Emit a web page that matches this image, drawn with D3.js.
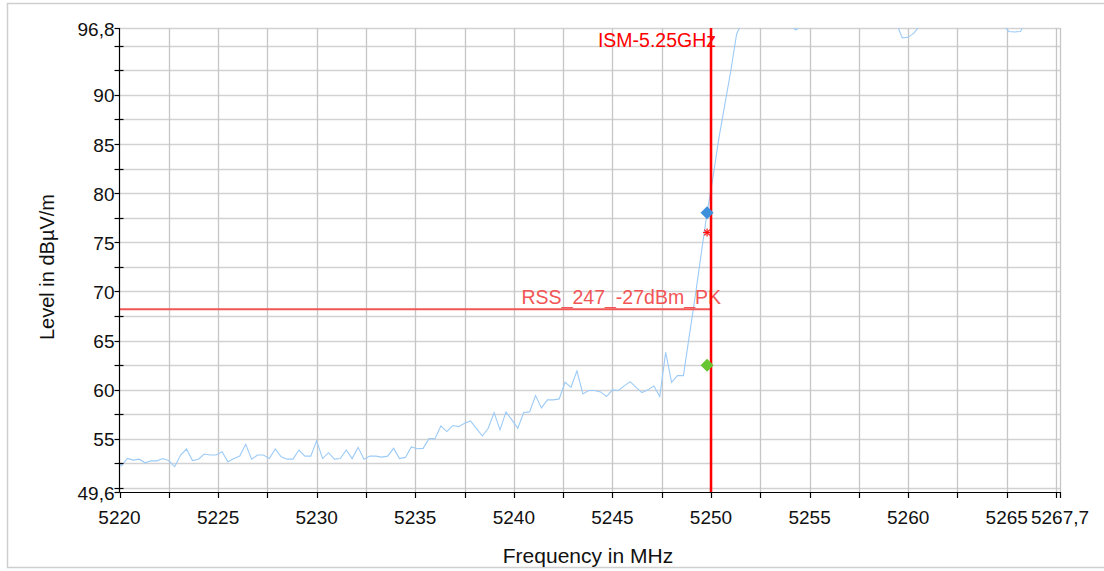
<!DOCTYPE html>
<html>
<head>
  <title>Level vs Frequency</title>
  <script src="https://d3js.org/d3.v7.min.js"></script>
  <style>
    body { margin: 0; background: #fff; }
    text { font-family: "Liberation Sans", Arial, sans-serif; }
  </style>
</head>
<body>
<script>
// trace: frequency (MHz) and level (dBuV/m)
var freqMHz = [5220.0, 5220.1, 5220.4, 5220.7, 5221.0, 5221.3, 5221.6, 5221.9, 5222.2, 5222.5, 5222.8,
  5223.1, 5223.4, 5223.7, 5224.0, 5224.3, 5224.6, 5224.9, 5225.2, 5225.5, 5225.8,
  5226.1, 5226.4, 5226.7, 5227.0, 5227.3, 5227.6, 5227.9, 5228.2, 5228.5, 5228.8,
  5229.1, 5229.4, 5229.7, 5230.0, 5230.3, 5230.6, 5230.9, 5231.2, 5231.5, 5231.8,
  5232.1, 5232.4, 5232.7, 5233.0, 5233.3, 5233.6, 5233.9, 5234.2, 5234.5, 5234.8,
  5235.1, 5235.4, 5235.7, 5236.0, 5236.3, 5236.6, 5236.9, 5237.2, 5237.5, 5237.8,
  5238.1, 5238.4, 5238.7, 5239.0, 5239.3, 5239.6, 5239.9, 5240.2, 5240.5, 5240.8,
  5241.1, 5241.4, 5241.7, 5242.0, 5242.3, 5242.6, 5242.9, 5243.2, 5243.5, 5243.8,
  5244.1, 5244.4, 5244.7, 5245.0, 5245.3, 5245.6, 5245.9, 5246.2, 5246.5, 5246.8,
  5247.1, 5247.4, 5247.7, 5248.0, 5248.3, 5248.6, 5248.9, 5249.2, 5249.5, 5249.8,
  5250.1, 5250.4, 5250.7, 5251.0, 5251.3, 5251.6, 5251.9, 5252.2, 5252.5, 5252.8,
  5253.1, 5253.4, 5253.7, 5254.0, 5254.3, 5254.6, 5254.9, 5255.2, 5255.5, 5255.8,
  5256.1, 5256.4, 5256.7, 5257.0, 5257.3, 5257.6, 5257.9, 5258.2, 5258.5, 5258.8,
  5259.1, 5259.4, 5259.7, 5260.0, 5260.3, 5260.6, 5260.9, 5261.2, 5261.5, 5261.8,
  5262.1, 5262.4, 5262.7, 5263.0, 5263.3, 5263.6, 5263.9, 5264.2, 5264.5, 5264.8,
  5265.1, 5265.4, 5265.7, 5266.0, 5266.3, 5266.6, 5266.9, 5267.2, 5267.5, 5267.7];

var levelDb = [52.6, 52.26, 53.01, 52.84, 52.94, 52.57, 52.77, 52.77, 53.0, 52.77, 52.19,
  53.36, 53.97, 52.8, 52.94, 53.46, 53.36, 53.36, 53.7, 52.67, 53.0,
  53.25, 54.45, 52.94, 53.36, 53.36, 53.0, 53.97, 53.18, 52.94, 52.94,
  53.87, 53.25, 53.25, 54.8, 53.0, 53.6, 52.94, 53.0, 53.87, 53.0,
  54.14, 52.94, 53.25, 53.25, 53.15, 53.25, 54.04, 53.0, 53.12, 54.18,
  54.0, 54.04, 55.03, 55.03, 56.32, 55.75, 56.36, 56.25, 56.59, 56.83,
  56.08, 55.3, 56.08, 57.68, 55.92, 57.75, 56.93, 56.08, 57.68, 57.75,
  59.41, 58.15, 58.97, 58.97, 59.07, 60.76, 60.25, 61.92, 59.58, 59.92,
  59.92, 59.78, 59.31, 59.99, 59.92, 60.39, 60.83, 60.25, 59.71, 59.99,
  60.39, 59.31, 63.81, 60.76, 61.44, 61.44, 65.5, 69.5, 73.8, 78.0,
  81.6, 85.6, 89.0, 92.4, 96.2, 97.5, 99.0, 100.2, 99.6, 100.8,
  99.4, 98.6, 98.0, 97.1, 96.6, 97.1, 98.2, 99.1, 100.0, 99.5,
  100.6, 101.2, 100.4, 99.8, 100.5, 99.7, 99.0, 99.6, 98.9, 98.4,
  98.0, 97.3, 95.8, 95.85, 96.3, 97.1, 98.0, 98.8, 99.5, 100.1,
  99.3, 100.0, 99.6, 98.9, 99.4, 98.7, 98.3, 97.9, 97.6, 97.2,
  96.45, 96.4, 96.45, 97.7, 98.4, 99.0, 98.6, 99.2, 98.8, 99.1];

var xTicks = [5220, 5225, 5230, 5235, 5240, 5245, 5250, 5255, 5260, 5265, 5267.7];
var yTicks = [49.6, 55, 60, 65, 70, 75, 80, 85, 90, 96.8];

var limitName = "RSS_247_-27dBm_PK";
var limitLevel = 68.2;
var bandName = "ISM-5.25GHz";
var bandEdge = 5250;

// markers at the band edge
var markerFreq = [5249.8, 5249.8, 5249.8];
var markerLevel = [78.0, 76.0, 62.5];
var markerKind = ["diamond", "star", "diamond"];
var markerColor = ["#3d8fdc", "#ff1010", "#66c530"];

var W = 1104, H = 571;
var pL = 119.5, pR = 1060, pT = 28, pB = 492;

var svg = d3.select("body").append("svg")
  .attr("width", W).attr("height", H);

// outer frame
svg.append("rect")
  .attr("x", 7.5).attr("y", 3.5).attr("width", 1110).attr("height", 564)
  .attr("fill", "none").attr("stroke", "#cfcfcf").attr("stroke-width", 1.5);

var x = d3.scaleLinear().domain([5220, 5267.7]).range([pL, pR]);
var y = d3.scaleLinear().domain([49.6, 96.8]).range([pB, pT]);

var fmt = function(v) { return String(v).replace(".", ","); };

// grid
var gx = d3.range(5220, 5268, 2.5).concat([5267.7]);
var gy = d3.range(50, 97, 2.5).concat([96.8]);

svg.append("g").selectAll("line").data(gy).enter().append("line")
  .attr("x1", pL).attr("x2", pR)
  .attr("y1", function(d) { return Math.round(y(d)) + 0.5; })
  .attr("y2", function(d) { return Math.round(y(d)) + 0.5; })
  .attr("stroke", "#d2d2d2").attr("stroke-width", 1.6);

svg.append("g").selectAll("line").data(gx.slice(1)).enter().append("line")
  .attr("y1", pT).attr("y2", pB)
  .attr("x1", function(d) { return Math.round(x(d)) + 0.5; })
  .attr("x2", function(d) { return Math.round(x(d)) + 0.5; })
  .attr("stroke", "#c6c6c6").attr("stroke-width", 1.3);

// trace, clipped to the plot
svg.append("clipPath").attr("id", "plotclip").append("rect")
  .attr("x", pL).attr("y", pT).attr("width", pR - pL).attr("height", pB - pT);

var pts = freqMHz.map(function(f, i) { return [f, levelDb[i]]; });
svg.append("path")
  .datum(pts)
  .attr("clip-path", "url(#plotclip)")
  .attr("fill", "none")
  .attr("stroke", "#9ccbf7")
  .attr("stroke-width", 1.1)
  .attr("d", d3.line().x(function(d) { return x(d[0]); }).y(function(d) { return y(d[1]); }));

// limit line
svg.append("line")
  .attr("x1", pL).attr("x2", x(bandEdge))
  .attr("y1", y(limitLevel)).attr("y2", y(limitLevel))
  .attr("stroke", "#f25555").attr("stroke-width", 2);
svg.append("text")
  .attr("x", x(bandEdge) + 10).attr("y", y(limitLevel) - 5)
  .attr("text-anchor", "end")
  .attr("fill", "#f25555").style("font-size", "19.5px")
  .text(limitName);

// band edge line
svg.append("line")
  .attr("x1", x(bandEdge)).attr("x2", x(bandEdge))
  .attr("y1", pT).attr("y2", pB)
  .attr("stroke", "#ff0000").attr("stroke-width", 2.5);
svg.append("text")
  .attr("x", x(bandEdge) + 5).attr("y", 47)
  .attr("text-anchor", "end")
  .attr("fill", "#ff0000").style("font-size", "19.5px")
  .text(bandName);

// markers
markerFreq.forEach(function(f, i) {
  var cx = x(f), cy = y(markerLevel[i]);
  if (markerKind[i] === "diamond") {
    svg.append("path")
      .attr("d", "M" + cx + "," + (cy - 6.5) + "L" + (cx + 6.5) + "," + cy + "L" + cx + "," + (cy + 6.5) + "L" + (cx - 6.5) + "," + cy + "Z")
      .attr("fill", markerColor[i]);
  } else {
    var g = svg.append("g").attr("transform", "translate(" + cx + "," + cy + ")")
      .attr("stroke", markerColor[i]).attr("stroke-width", 1.2);
    [0, 45, 90, 135].forEach(function(a) {
      var r = a * Math.PI / 180;
      g.append("line")
        .attr("x1", -4 * Math.cos(r)).attr("y1", -4 * Math.sin(r))
        .attr("x2", 4 * Math.cos(r)).attr("y2", 4 * Math.sin(r));
    });
  }
});

// axes
var axisG = svg.append("g").attr("stroke", "#000").attr("stroke-width", 1.2);
axisG.append("line").attr("x1", pL).attr("x2", pL).attr("y1", pT).attr("y2", pB + 0.5);
axisG.append("line").attr("x1", pL).attr("x2", pR + 1).attr("y1", pB + 0.5).attr("y2", pB + 0.5);

// x ticks (every 2.5 plus the end)
axisG.selectAll(".xt").data(gx).enter().append("line")
  .attr("x1", function(d) { return Math.round(x(d)) + 0.5; })
  .attr("x2", function(d) { return Math.round(x(d)) + 0.5; })
  .attr("y1", pB).attr("y2", pB + 6);

// y ticks: labelled ones to the left, the others across
axisG.selectAll(".yt").data(gy.concat([49.6])).enter().append("line")
  .attr("y1", function(d) { return Math.round(y(d)) + 0.5; })
  .attr("y2", function(d) { return Math.round(y(d)) + 0.5; })
  .attr("x1", pL - 5)
  .attr("x2", function(d) { return yTicks.indexOf(d) >= 0 ? pL : pL + 4; });

svg.append("g").selectAll("text").data(xTicks).enter().append("text")
  .attr("x", function(d) { return x(d); })
  .attr("y", 524)
  .attr("text-anchor", "middle")
  .style("font-size", "19px").attr("fill", "#111")
  .text(fmt);

svg.append("g").selectAll("text").data(yTicks).enter().append("text")
  .attr("x", pL - 5)
  .attr("y", function(d) { return y(d) + 7.5; })
  .attr("text-anchor", "end")
  .style("font-size", "19px").attr("fill", "#111")
  .text(fmt);

// axis titles
svg.append("text")
  .attr("x", 588).attr("y", 563)
  .attr("text-anchor", "middle")
  .style("font-size", "21px").attr("fill", "#111")
  .text("Frequency in MHz");

svg.append("text")
  .attr("transform", "translate(54,267) rotate(-90)")
  .attr("text-anchor", "middle")
  .style("font-size", "20px").attr("fill", "#111")
  .text("Level in dBµV/m");
</script>
</body>
</html>
